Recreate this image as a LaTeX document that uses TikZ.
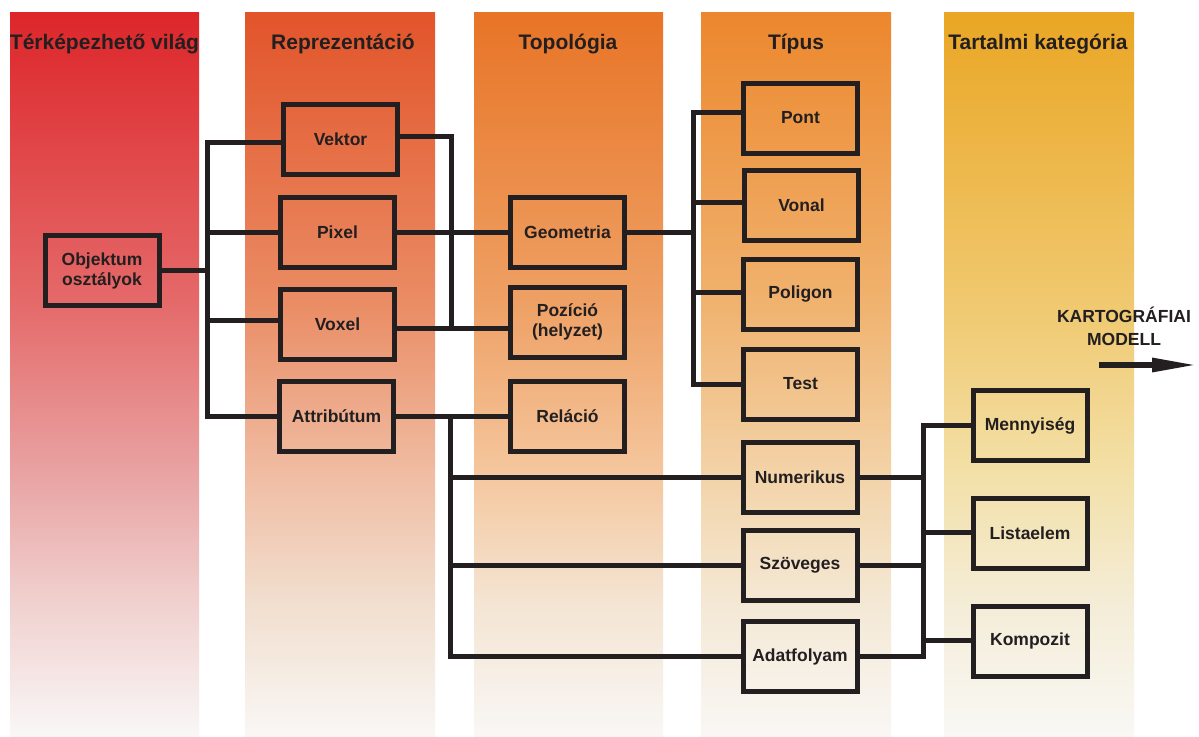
\documentclass[tikz,border=0pt]{standalone}
\usepackage{fontspec}
\setmainfont{Liberation Sans}
\usetikzlibrary{arrows.meta}
\definecolor{ink}{RGB}{35,31,32}
% band A (red)
\definecolor{aA}{RGB}{221,38,42}\definecolor{aB}{RGB}{229,105,105}\definecolor{aC}{RGB}{233,165,165}\definecolor{aD}{RGB}{240,208,206}\definecolor{aE}{RGB}{249,247,247}
% band B
\definecolor{bA}{RGB}{226,84,42}\definecolor{bB}{RGB}{234,140,100}\definecolor{bC}{RGB}{240,190,165}\definecolor{bD}{RGB}{241,222,206}\definecolor{bE}{RGB}{249,247,245}
% band C
\definecolor{cA}{RGB}{232,116,38}\definecolor{cB}{RGB}{238,160,100}\definecolor{cC}{RGB}{245,200,160}\definecolor{cD}{RGB}{244,228,210}\definecolor{cE}{RGB}{249,247,245}
% band D
\definecolor{dA}{RGB}{236,135,45}\definecolor{dB}{RGB}{240,178,110}\definecolor{dC}{RGB}{243,212,170}\definecolor{dD}{RGB}{244,232,212}\definecolor{dE}{RGB}{249,247,245}
% band E
\definecolor{eA}{RGB}{234,166,36}\definecolor{eB}{RGB}{240,200,110}\definecolor{eC}{RGB}{243,225,170}\definecolor{eD}{RGB}{244,236,214}\definecolor{eE}{RGB}{249,248,245}
\pgfdeclareverticalshading{bandA}{100bp}{color(0bp)=(aE); color(25bp)=(aE); color(34.4bp)=(aD); color(42.7bp)=(aC); color(55.1bp)=(aB); color(75bp)=(aA); color(100bp)=(aA)}
\pgfdeclareverticalshading{bandB}{100bp}{color(0bp)=(bE); color(25bp)=(bE); color(34.4bp)=(bD); color(42.7bp)=(bC); color(55.1bp)=(bB); color(75bp)=(bA); color(100bp)=(bA)}
\pgfdeclareverticalshading{bandC}{100bp}{color(0bp)=(cE); color(25bp)=(cE); color(34.4bp)=(cD); color(42.7bp)=(cC); color(55.1bp)=(cB); color(75bp)=(cA); color(100bp)=(cA)}
\pgfdeclareverticalshading{bandD}{100bp}{color(0bp)=(dE); color(25bp)=(dE); color(34.4bp)=(dD); color(42.7bp)=(dC); color(55.1bp)=(dB); color(75bp)=(dA); color(100bp)=(dA)}
\pgfdeclareverticalshading{bandE}{100bp}{color(0bp)=(eE); color(25bp)=(eE); color(34.4bp)=(eD); color(42.7bp)=(eC); color(55.1bp)=(eB); color(75bp)=(eA); color(100bp)=(eA)}
\tikzset{
  box/.style={draw=ink, line width=5pt, minimum width=114pt, minimum height=70pt,
    inner sep=0pt, align=center, text=ink, font=\fontsize{17.5}{20}\selectfont\bfseries},
  head/.style={anchor=base, text=ink, inner sep=0pt, font=\fontsize{21}{24}\selectfont\bfseries},
  conn/.style={draw=ink, line width=5pt},
}
\begin{document}
\begin{tikzpicture}[x=1pt,y=1pt]
\useasboundingbox (0,0) rectangle (1199,-736);
\fill[white] (0,0) rectangle (1199,-736);
% bands
\shade[shading=bandA] (10,-12) rectangle (199,-736);
\shade[shading=bandB] (245,-12) rectangle (435,-736);
\shade[shading=bandC] (474,-12) rectangle (663,-736);
\shade[shading=bandD] (701,-12) rectangle (891,-736);
\shade[shading=bandE] (944,-12) rectangle (1134,-736);
% headers
\node[head] (hA) at (104.5,-49) {Térképezhető világ};
\node[head] (hB) at (343,-49) {Reprezentáció};
\node[head] (hC) at (568,-49) {Topológia};
\node[head] (hD) at (796,-49) {Típus};
\node[head] (hE) at (1038,-49) {Tartalmi kategória};
% boxes
\node[box] (obj) at (102,-270.5) {Objektum\\osztályok};
\node[box] (vek) at (340.5,-139) {Vektor};
\node[box] (pix) at (337.5,-232) {Pixel};
\node[box] (vox) at (337.5,-324) {Voxel};
\node[box] (att) at (336.5,-416) {Attribútum};
\node[box] (geo) at (567.5,-232) {Geometria};
\node[box] (poz) at (567.5,-322) {Pozíció\\(helyzet)};
\node[box] (rel) at (567.5,-416) {Reláció};
\node[box] (pont) at (800.5,-118) {Pont};
\node[box] (vonal) at (801.5,-205.5) {Vonal};
\node[box] (poli) at (800.5,-294) {Poligon};
\node[box] (test) at (800.5,-384) {Test};
\node[box] (num) at (800,-477) {Numerikus};
\node[box] (szo) at (800,-565.5) {Szöveges};
\node[box] (ada) at (800,-656.5) {Adatfolyam};
\node[box] (men) at (1030,-425.5) {Mennyiség};
\node[box] (lis) at (1030,-533) {Listaelem};
\node[box] (kom) at (1030,-641) {Kompozit};
% trunk x positions
\coordinate (tA) at (207,0);
\coordinate (tB) at (451,-328);
\coordinate (tC) at (450,0);
\coordinate (tD) at (693,0);
\coordinate (tE) at (923,0);
% Objektum tree
\draw[conn] (obj.east) -- (obj.east -| tA);
\draw[conn] ([yshift=-3pt]vek.west) -| (att.west -| tA) -- (att.west);
\draw[conn] (pix.west) -- (pix.west -| tA);
\draw[conn] ([yshift=4pt]vox.west) -- ([yshift=4pt]vox.west -| tA);
% representation -> topology
\draw[conn] ([yshift=3pt]vek.east) -| (tB);
\draw[conn] (pix.east) -- (geo.west);
\draw[conn] ([yshift=-4pt]vox.east) -- ([yshift=-6pt]poz.west);
\draw[conn] (att.east) -- (rel.west);
% attribute tree
\draw[conn] (att.east -| tC) |- (ada.west);
\draw[conn] (num.west) -- (num.west -| tC);
\draw[conn] (szo.west) -- (szo.west -| tC);
% geometry tree
\draw[conn] (geo.east) -- (geo.east -| tD);
\draw[conn] ([yshift=6pt]pont.west) -| (test.west -| tD) -- (test.west);
\draw[conn] ([yshift=3pt]vonal.west) -- ([yshift=3pt]vonal.west -| tD);
\draw[conn] ([yshift=2pt]poli.west) -- ([yshift=2pt]poli.west -| tD);
% content category tree
\draw[conn] (men.west) -| (ada.east -| tE) -- (ada.east);
\draw[conn] (num.east) -- (num.east -| tE);
\draw[conn] (szo.east) -- (szo.east -| tE);
\draw[conn] ([yshift=1pt]lis.west) -- ([yshift=1pt]lis.west -| tE);
\draw[conn] ([yshift=1pt]kom.west) -- ([yshift=1pt]kom.west -| tE);
% cartographic model
\node[align=center, text=ink, inner sep=0pt, font=\fontsize{17.5}{23}\selectfont\bfseries] (kart) at (1124,-326) {KARTOGRÁFIAI\\MODELL};
\coordinate (arS) at (1099,-365);
\coordinate (arE) at (1198,-365);
\draw[draw=ink, line width=6pt, -{Triangle[length=46pt,width=13pt]}] (arS) -- (arE);
\end{tikzpicture}
\end{document}
